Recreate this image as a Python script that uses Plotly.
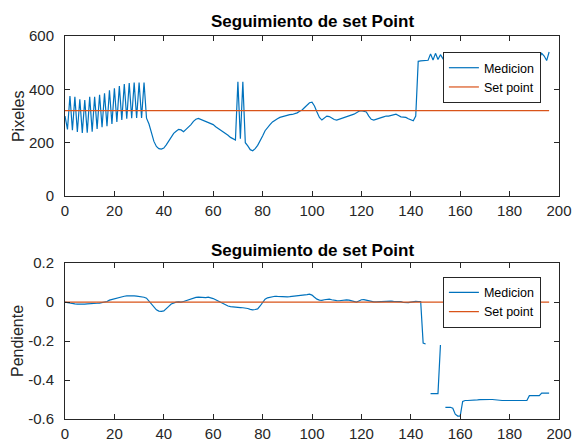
import plotly.graph_objects as go

# ---------------- data ----------------
x_vals = list(range(0, 197))

medicion_px = [
    300, 250, 375, 247, 372, 240, 363, 237, 360, 238,   # 0-9
    372, 241, 372, 252, 380, 258, 385, 262, 397, 270,   # 10-19
    404, 278, 412, 285, 420, 290, 424, 292, 426, 293,   # 20-29
    426, 293, 426, 292, 270, 235, 205, 186, 178, 176,   # 30-39
    180, 192, 207, 222, 235, 243, 250, 248, 241, 250,   # 40-49
    258, 268, 280, 288, 291, 287, 281, 278, 275, 272,   # 50-59
    268, 260, 254, 247, 240, 235, 228, 220, 214, 210,   # 60-69
    428, 215, 428, 200, 188, 174, 170, 178, 190, 205,   # 70-79
    225, 245, 258, 268, 278, 285, 290, 295, 298, 301,   # 80-89
    303, 305, 306, 308, 312, 318, 323, 332, 342, 350,   # 90-99
    352, 338, 315, 295, 285, 292, 300, 298, 292, 287,   # 100-109
    285, 288, 292, 295, 297, 300, 304, 307, 312, 318,   # 110-119
    320, 318, 315, 300, 288, 285, 289, 291, 294, 297,   # 120-129
    300, 300, 302, 305, 307, 302, 297, 296, 295, 290,   # 130-139
    285, 282, 300, 505, 507, 507, 508, 509, 533, 510,   # 140-149
    535, 512, 530, 515, 528, 512, 525, 518, 530, 515,   # 150-159
    522, 528, 516, 524, 531, 518, 520, 527, 514, 522,   # 160-169
    530, 517, 523, 528, 515, 521, 529, 518, 524, 530,   # 170-179
    516, 522, 527, 519, 525, 531, 517, 523, 528, 515,   # 180-189
    522, 530, 518, 535, 525, 508, 540,                  # 190-196
]
setpoint_px = [320] * len(x_vals)

medicion_slope = [
    0.000, -0.003, -0.006, -0.008, -0.009, -0.010, -0.011, -0.010, -0.010, -0.009,   # 0-9
    -0.009, -0.008, -0.007, -0.006, -0.005, -0.002, 0.001, 0.003, 0.010, 0.014,      # 10-19
    0.016, 0.018, 0.022, 0.026, 0.030, 0.032, 0.033, 0.033, 0.032, 0.031,            # 20-29
    0.030, 0.028, 0.025, 0.020, 0.005, -0.014, -0.030, -0.040, -0.046, -0.048,       # 30-39
    -0.045, -0.035, -0.022, -0.010, -0.003, 0.000, 0.001, 0.000, 0.003, 0.007,       # 40-49
    0.011, 0.018, 0.022, 0.024, 0.025, 0.024, 0.022, 0.023, 0.025, 0.022,            # 50-59
    0.018, 0.012, 0.005, -0.003, -0.010, -0.016, -0.020, -0.023, -0.025, -0.027,     # 60-69
    -0.028, -0.028, -0.029, -0.030, -0.033, -0.037, -0.040, -0.038, -0.035, -0.020,  # 70-79
    -0.004, 0.015, 0.022, 0.026, 0.028, 0.030, 0.029, 0.028, 0.027, 0.026,           # 80-89
    0.027, 0.028, 0.029, 0.030, 0.031, 0.033, 0.034, 0.036, 0.038, 0.041,            # 90-99
    0.036, 0.025, 0.015, 0.010, 0.009, 0.012, 0.014, 0.015, 0.012, 0.009,            # 100-109
    0.008, 0.007, 0.009, 0.010, 0.011, 0.010, 0.006, 0.002, 0.000, 0.006,            # 110-119
    0.012, 0.013, 0.009, 0.005, 0.003, 0.001, 0.001, 0.002, 0.003, 0.004,            # 120-129
    0.004, 0.005, 0.005, 0.004, 0.004, 0.004, 0.002, -0.002, -0.004, -0.003,         # 130-139
    0.000, 0.003, 0.004, 0.003, 0.003, -0.210, -0.215, None, -0.470, -0.470,         # 140-149
    -0.470, -0.470, -0.220, None, -0.540, -0.540, -0.540, -0.545, -0.575, -0.585,    # 150-159
    -0.585, -0.510, -0.505, -0.505, -0.505, -0.504, -0.503, -0.502, -0.501, -0.500,  # 160-169
    -0.500, -0.500, -0.500, -0.500, -0.502, -0.503, -0.504, -0.505, -0.505, -0.505,  # 170-179
    -0.505, -0.505, -0.505, -0.505, -0.505, -0.505, -0.505, -0.505, -0.480, -0.480,  # 180-189
    -0.480, -0.480, -0.480, -0.467, -0.467, -0.467, -0.467,                          # 190-196
]
setpoint_slope = [0] * len(x_vals)

x_ticks = [0, 20, 40, 60, 80, 100, 120, 140, 160, 180, 200]
y_ticks_top = [0, 200, 400, 600]
y_ticks_bot = [-0.6, -0.4, -0.2, 0, 0.2]
y_ticktext_bot = ["-0.6", "-0.4", "-0.2", "0", "0.2"]
title_text = "Seguimiento de set Point"

# ---------------- styles ----------------
BLUE = "#0072BD"
ORANGE = "#D95319"
AX = "#262626"
FONT = "Liberation Sans, Arial, sans-serif"

fig = go.Figure()
fig.add_trace(go.Scatter(x=x_vals, y=medicion_px, mode="lines", name="Medicion",
                         line=dict(color=BLUE, width=1.2), xaxis="x", yaxis="y", legend="legend"))
fig.add_trace(go.Scatter(x=x_vals, y=setpoint_px, mode="lines", name="Set point",
                         line=dict(color=ORANGE, width=1.2), xaxis="x", yaxis="y", legend="legend"))
fig.add_trace(go.Scatter(x=x_vals, y=medicion_slope, mode="lines", name="Medicion",
                         line=dict(color=BLUE, width=1.2), connectgaps=False,
                         xaxis="x2", yaxis="y2", legend="legend2"))
fig.add_trace(go.Scatter(x=x_vals, y=setpoint_slope, mode="lines", name="Set point",
                         line=dict(color=ORANGE, width=1.2), xaxis="x2", yaxis="y2", legend="legend2"))

axis_common = dict(showline=True, linecolor=AX, linewidth=1, mirror="ticks",
                   ticks="inside", ticklen=5, tickcolor=AX, showgrid=False, zeroline=False,
                   automargin=False, tickfont=dict(family=FONT, size=15, color=AX))

fig.update_layout(
    width=572, height=443,
    paper_bgcolor="white", plot_bgcolor="white",
    margin=dict(l=65, r=13, t=36, b=24),
    showlegend=True,
    xaxis=dict(domain=[0, 1], range=[0, 200], tickvals=x_ticks, anchor="y",
               ticklabelstandoff=1, **axis_common),
    yaxis=dict(domain=[0.582, 1], range=[0, 600], tickvals=y_ticks_top, anchor="x",
               ticklabelstandoff=7, **axis_common),
    xaxis2=dict(domain=[0, 1], range=[0, 200], tickvals=x_ticks, anchor="y2",
                ticklabelstandoff=1, **axis_common),
    yaxis2=dict(domain=[0, 0.407], range=[-0.6, 0.2], tickvals=y_ticks_bot,
                ticktext=y_ticktext_bot, anchor="x2", ticklabelstandoff=7, **axis_common),
    legend=dict(x=0.765, y=0.958, xanchor="left", yanchor="top", bgcolor="white",
                bordercolor=AX, borderwidth=1, font=dict(family=FONT, size=12.5, color="black"),
                tracegroupgap=0),
    legend2=dict(x=0.765, y=0.3715, xanchor="left", yanchor="top", bgcolor="white",
                 bordercolor=AX, borderwidth=1, font=dict(family=FONT, size=12.5, color="black"),
                 tracegroupgap=0),
    annotations=[
        dict(text="<b>" + title_text + "</b>", xref="paper", yref="paper", x=0.5, y=1.008,
             xanchor="center", yanchor="bottom", showarrow=False,
             font=dict(family=FONT, size=17, color="black")),
        dict(text="<b>" + title_text + "</b>", xref="paper", yref="paper", x=0.5, y=0.411,
             xanchor="center", yanchor="bottom", showarrow=False,
             font=dict(family=FONT, size=17, color="black")),
        dict(text="Pixeles", xref="paper", yref="paper", x=-0.0951, y=0.791,
             xanchor="center", yanchor="middle", textangle=-90, showarrow=False,
             font=dict(family=FONT, size=16, color=AX)),
        dict(text="Pendiente", xref="paper", yref="paper", x=-0.0951, y=0.2037,
             xanchor="center", yanchor="middle", textangle=-90, showarrow=False,
             font=dict(family=FONT, size=16, color=AX)),
    ],
)

fig.write_html("out.html",
               config={"displayModeBar": False},
               post_script="document.body.style.margin='0';document.body.style.overflow='hidden';")
